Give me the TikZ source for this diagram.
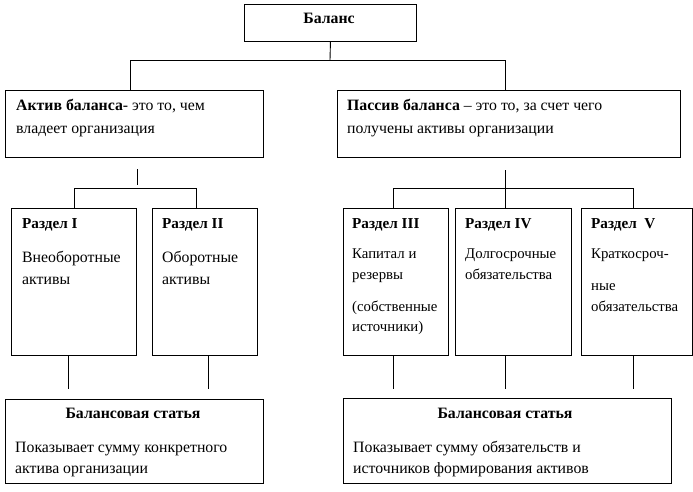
\documentclass[tikz,border=0pt]{standalone}
\usepackage{fontspec}
\setmainfont{Liberation Serif}
\tikzset{
  box/.style={draw=black, line width=0.9pt, fill=white, inner sep=0pt, anchor=north west},
  txt/.style={anchor=base west, inner sep=0pt, font=\fontsize{15.8}{18}\selectfont},
  mtxt/.style={anchor=base west, inner sep=0pt, font=\fontsize{15.2}{18}\selectfont\bfseries},
  stxt/.style={anchor=base west, inner sep=0pt, font=\fontsize{14.8}{17}\selectfont},
  ctxt/.style={anchor=base, inner sep=0pt, font=\fontsize{15.8}{18}\selectfont\bfseries},
  conn/.style={draw=black, line width=0.9pt}
}
\begin{document}
\begin{tikzpicture}[x=1pt,y=-1pt]
\useasboundingbox[fill=white] (0,0) rectangle (693,492);
% boxes
\node[box, minimum width=172pt, minimum height=37pt] (balans) at (244,4) {};
\node[box, minimum width=258pt, minimum height=67pt] (aktiv) at (5,90) {};
\node[box, minimum width=343pt, minimum height=67pt] (passiv) at (337,90) {};
\node[box, minimum width=125pt, minimum height=147pt] (r1) at (11,208) {};
\node[box, minimum width=105pt, minimum height=147pt] (r2) at (152,208) {};
\node[box, minimum width=105pt, minimum height=147pt] (r3) at (343,208) {};
\node[box, minimum width=116pt, minimum height=147pt] (r4) at (455,208) {};
\node[box, minimum width=111pt, minimum height=147pt] (r5) at (581,208) {};
\node[box, minimum width=258pt, minimum height=84pt] (st1) at (5,399) {};
\node[box, minimum width=328pt, minimum height=85pt] (st2) at (343,398) {};
% texts
\node[ctxt] (tbal) at (329,24) {Баланс};
\node[txt] (ta1) at (16,111) {\textbf{Актив баланса}- это то, чем};
\node[txt] (ta2) at (16,133) {владеет организация};
\node[txt] (tp1) at (347,111) {\textbf{Пассив баланса} – это то, за счет чего};
\node[txt] (tp2) at (347,133) {получены активы организации};
\node[mtxt] (t1a) at (22,228) {Раздел I};
\node[txt] (t1b) at (22,262) {Внеоборотные};
\node[txt] (t1c) at (22,284) {активы};
\node[mtxt] (t2a) at (162,228) {Раздел II};
\node[txt] (t2b) at (162,262) {Оборотные};
\node[txt] (t2c) at (162,284) {активы};
\node[mtxt] (t3a) at (352,228) {Раздел III};
\node[stxt] (t3b) at (352,258) {Капитал и};
\node[stxt] (t3c) at (352,279) {резервы};
\node[stxt] (t3d) at (352,311) {(собственные};
\node[stxt] (t3e) at (352,331) {источники)};
\node[mtxt] (t4a) at (465,228) {Раздел IV};
\node[stxt] (t4b) at (465,258) {Долгосрочные};
\node[stxt] (t4c) at (465,279) {обязательства};
\node[mtxt] (t5a) at (591,228) {Раздел\ \ V};
\node[stxt] (t5b) at (591,258) {Краткосроч-};
\node[stxt] (t5c) at (591,290) {ные};
\node[stxt] (t5d) at (591,311) {обязательства};
\node[ctxt] (ts1) at (133,418) {Балансовая статья};
\node[txt] (ts1b) at (15,452) {Показывает сумму конкретного};
\node[txt] (ts1c) at (15,473) {актива организации};
\node[ctxt] (ts2) at (505,418) {Балансовая статья};
\node[txt] (ts2b) at (353,452) {Показывает сумму обязательств  и};
\node[txt] (ts2c) at (353,473) {источников формирования активов};
% junction coordinates
\coordinate (jtop) at (330,60);
\coordinate (ja) at (130,60);
\coordinate (jp) at (505,60);
\coordinate (la0) at (137,169);
\coordinate (la1) at (137,185);
\coordinate (lh1) at (74,188);
\coordinate (lh2) at (196,188);
\coordinate (pa0) at (505,170);
\coordinate (ph1) at (393,188);
\coordinate (ph2) at (633,188);
\coordinate (d1) at (68,389);
\coordinate (d2) at (208,389);
\coordinate (d3) at (393,389);
\coordinate (d4) at (505,389);
\coordinate (d5) at (633,389);
% connectors
\draw[conn] (balans.south) -- (jtop);
\draw[conn] (aktiv.north -| ja) -- (ja) -- (jp) -- (passiv.north -| jp);
\draw[conn] (la0) -- (la1);
\draw[conn] (r1.north -| lh1) -- (lh1) -- (lh2) -- (r2.north -| lh2);
\draw[conn] (pa0) -- (r4.north -| pa0);
\draw[conn] (r3.north -| ph1) -- (ph1) -- (ph2) -- (r5.north -| ph2);
\draw[conn] (r1.south -| d1) -- (d1);
\draw[conn] (r2.south -| d2) -- (d2);
\draw[conn] (r3.south -| d3) -- (d3);
\draw[conn] (r4.south -| d4) -- (d4);
\draw[conn] (r5.south -| d5) -- (d5);
\end{tikzpicture}
\end{document}
